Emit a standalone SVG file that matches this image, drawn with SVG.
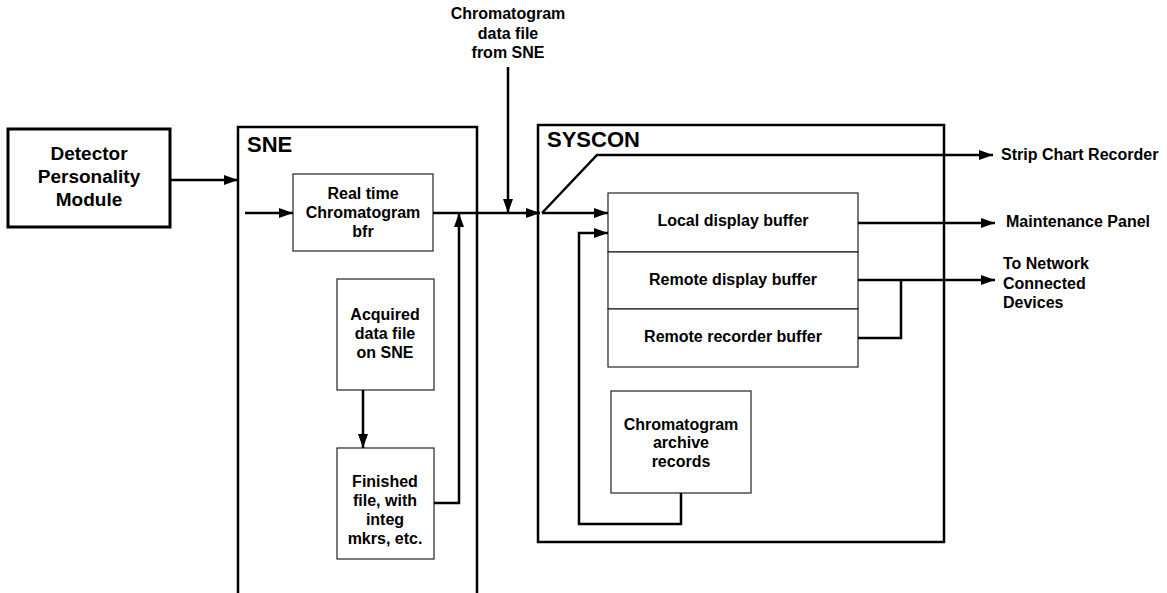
<svg xmlns="http://www.w3.org/2000/svg" width="1167" height="593" viewBox="0 0 1167 593">
  <defs>
    <marker id="arrow" viewBox="0 0 14 10" refX="14" refY="5" markerWidth="14" markerHeight="10" markerUnits="userSpaceOnUse" orient="auto">
      <path d="M0,0 L14,5 L0,10 Z" fill="#000"/>
    </marker>
    <style>
      text { font-family: "Liberation Sans", Arial, sans-serif; font-weight: bold; fill: #000; }
      .big { font-size: 19px; }
      .title { font-size: 22px; }
      .lbl { font-size: 16px; }
      .mid { text-anchor: middle; }
      .frame { fill: none; stroke: #000; stroke-width: 2.5; }
      .box { fill: #fff; stroke: #222; stroke-width: 1.2; }
      .wire { fill: none; stroke: #000; stroke-width: 2.5; }
      .arr { marker-end: url(#arrow); }
    </style>
  </defs>
  <rect width="1167" height="593" fill="#fff"/>

  <!-- Detector Personality Module -->
  <g id="detector">
    <rect x="8" y="129" width="162" height="98" fill="#fff" stroke="#000" stroke-width="3"/>
    <text class="big mid" x="89" y="160">Detector</text>
    <text class="big mid" x="89" y="183">Personality</text>
    <text class="big mid" x="89" y="206">Module</text>
  </g>

  <!-- SNE container (open at the bottom) -->
  <g id="sne">
    <path class="frame" d="M238,593 V127 H477 V593"/>
    <text class="title" x="247" y="152">SNE</text>
  </g>

  <g id="realtime">
    <rect class="box" x="293" y="174" width="140" height="77"/>
    <text class="lbl mid" x="363" y="199">Real time</text>
    <text class="lbl mid" x="363" y="218">Chromatogram</text>
    <text class="lbl mid" x="363" y="237">bfr</text>
  </g>

  <g id="acquired">
    <rect class="box" x="337" y="279" width="97" height="111"/>
    <text class="lbl mid" x="385" y="320">Acquired</text>
    <text class="lbl mid" x="385" y="339">data file</text>
    <text class="lbl mid" x="385" y="358">on SNE</text>
  </g>

  <g id="finished">
    <rect class="box" x="337" y="448" width="97" height="111"/>
    <text class="lbl mid" x="385" y="487">Finished</text>
    <text class="lbl mid" x="385" y="506">file, with</text>
    <text class="lbl mid" x="385" y="525">integ</text>
    <text class="lbl mid" x="385" y="544">mkrs, etc.</text>
  </g>

  <!-- SYSCON container -->
  <g id="syscon">
    <rect class="frame" x="538" y="125" width="406" height="417"/>
    <text class="title" x="547" y="147">SYSCON</text>
  </g>

  <g id="buffers">
    <rect class="box" x="608" y="193" width="250" height="59"/>
    <rect class="box" x="608" y="252" width="250" height="57"/>
    <rect class="box" x="608" y="309" width="250" height="58"/>
    <text class="lbl mid" x="733" y="226">Local display buffer</text>
    <text class="lbl mid" x="733" y="285">Remote display buffer</text>
    <text class="lbl mid" x="733" y="342">Remote recorder buffer</text>
  </g>

  <g id="archive">
    <rect class="box" x="611" y="391" width="140" height="102"/>
    <text class="lbl mid" x="681" y="430">Chromatogram</text>
    <text class="lbl mid" x="681" y="448">archive</text>
    <text class="lbl mid" x="681" y="467">records</text>
  </g>

  <!-- free labels -->
  <g id="source-label">
    <text class="lbl mid" x="508" y="19">Chromatogram</text>
    <text class="lbl mid" x="508" y="39">data file</text>
    <text class="lbl mid" x="508" y="58">from SNE</text>
  </g>
  <g id="outputs">
    <text class="lbl" x="1001" y="160">Strip Chart Recorder</text>
    <text class="lbl" x="1006" y="227">Maintenance Panel</text>
    <text class="lbl" x="1003" y="269">To Network</text>
    <text class="lbl" x="1003" y="289">Connected</text>
    <text class="lbl" x="1003" y="308">Devices</text>
  </g>

  <!-- connectors -->
  <g id="connectors">
    <path class="wire arr" d="M170,180 H238"/>
    <path class="wire arr" d="M245,213 H293"/>
    <path class="wire arr" d="M433,213 H540"/>
    <path class="wire arr" d="M508,67 V213"/>
    <path class="wire arr" d="M434,503 H459 V213"/>
    <path class="wire arr" d="M363,390 V448"/>
    <path class="wire arr" d="M542,213 L597,155 H993"/>
    <path class="wire arr" d="M542,213 H608"/>
    <path class="wire arr" d="M681,493 V524 H579 V233 H608"/>
    <path class="wire arr" d="M858,223 H995"/>
    <path class="wire arr" d="M858,280 H995"/>
    <path class="wire" d="M858,338 H901 V280"/>
  </g>
</svg>
